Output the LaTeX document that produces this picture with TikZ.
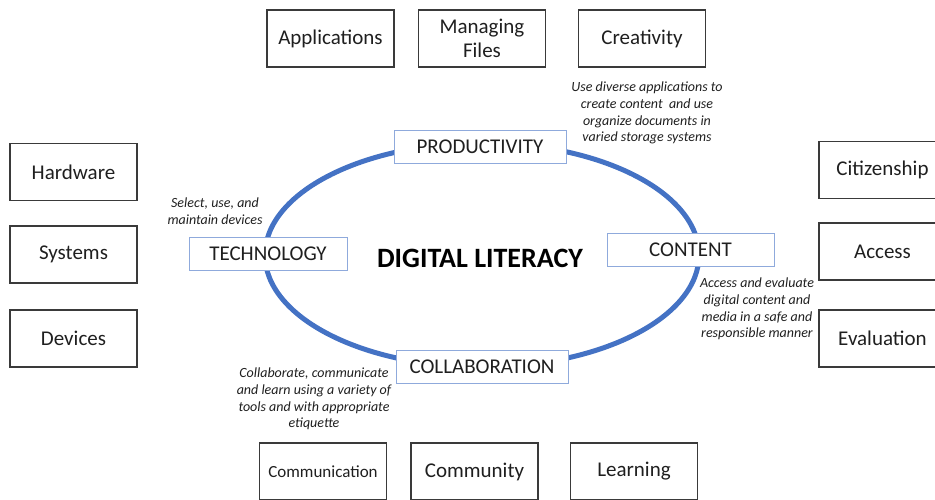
\documentclass[tikz,border=0pt]{standalone}
\usepackage{fontspec}
\setmainfont{Carlito}
\usetikzlibrary{positioning}
\definecolor{ringblue}{HTML}{4472C4}
\definecolor{boxblue}{HTML}{8FAADC}
\definecolor{edgegray}{HTML}{3A3A3A}
\definecolor{inkgray}{HTML}{1F1F1F}

\begin{document}
\begin{tikzpicture}[x=1pt,y=-1pt]
  % Styles
  \tikzset{
    area/.style={draw=edgegray, line width=1.3pt, minimum width=127pt, minimum height=57pt, align=center, inner sep=0pt, text=inkgray, font=\fontsize{21}{24}\selectfont},
    pillar/.style={draw=boxblue, line width=0.9pt, fill=white, minimum height=33pt, align=center, inner sep=0pt, text=inkgray, font=\fontsize{21}{24}\selectfont},
    note/.style={align=center, inner sep=0pt, text=inkgray, font=\itshape\fontsize{14}{16.7}\selectfont},
    ring/.style={draw=ringblue, line width=5pt},
  }
  \useasboundingbox (0,0) rectangle (935,499);
  \clip (0,0) rectangle (935,499);

  % Central ring
  \draw[ring] (482,255) ellipse [x radius=217, y radius=112];
  \node[font=\bfseries\fontsize{28}{32}\selectfont, text=black] (title) at (480,258) {DIGITAL LITERACY};

  % Pillars on the ring
  \node[pillar, minimum width=172pt] (prod)   at (480,146.5) {PRODUCTIVITY};
  \node[pillar, minimum width=158pt] (tech)   at (268,253.5) {TECHNOLOGY};
  \node[pillar, minimum width=167pt] (cont)   at (690.5,249.5) {CONTENT};
  \node[pillar, minimum width=172pt] (collab) at (482,366.5) {COLLABORATION};

  % Notes
  \node[note] (prodnote)   at (647,113) {Use diverse applications to\\create content\ \ and use\\organize documents in\\varied storage systems};
  \node[note] (technote)   at (215,211) {Select, use, and\\maintain devices};
  \node[note] (contnote)   at (757,309) {Access and evaluate\\digital content and\\media in a safe and\\responsible manner};
  \node[note] (collabnote) at (314,399) {Collaborate, communicate\\and learn using a variety of\\tools and with appropriate\\etiquette};

  % Top row: productivity
  \node[area] (apps)   at (330.5,38.5) {Applications};
  \node[area] (files)  at (482,38.5)   {Managing\\Files};
  \node[area] (create) at (642,38.5)   {Creativity};

  % Left column: technology
  \node[area] (hard)   at (73.5,172)   {Hardware};
  \node[area] (sys)    at (73.5,254.5) {Systems};
  \node[area] (dev)    at (73.5,338.5) {Devices};

  % Right column: content
  \node[area] (citizen) at (882.5,170)   {Citizenship};
  \node[area] (access)  at (882.5,251.5) {Access};
  \node[area] (evalu)   at (882.5,338.5) {Evaluation};

  % Bottom row: collaboration
  \node[area, font=\fontsize{17}{20}\selectfont] (comm) at (323,471.5) {Communication};
  \node[area] (commun) at (474.5,471.5) {Community};
  \node[area] (learn)  at (634,471.5)   {Learning};
\end{tikzpicture}
\end{document}
